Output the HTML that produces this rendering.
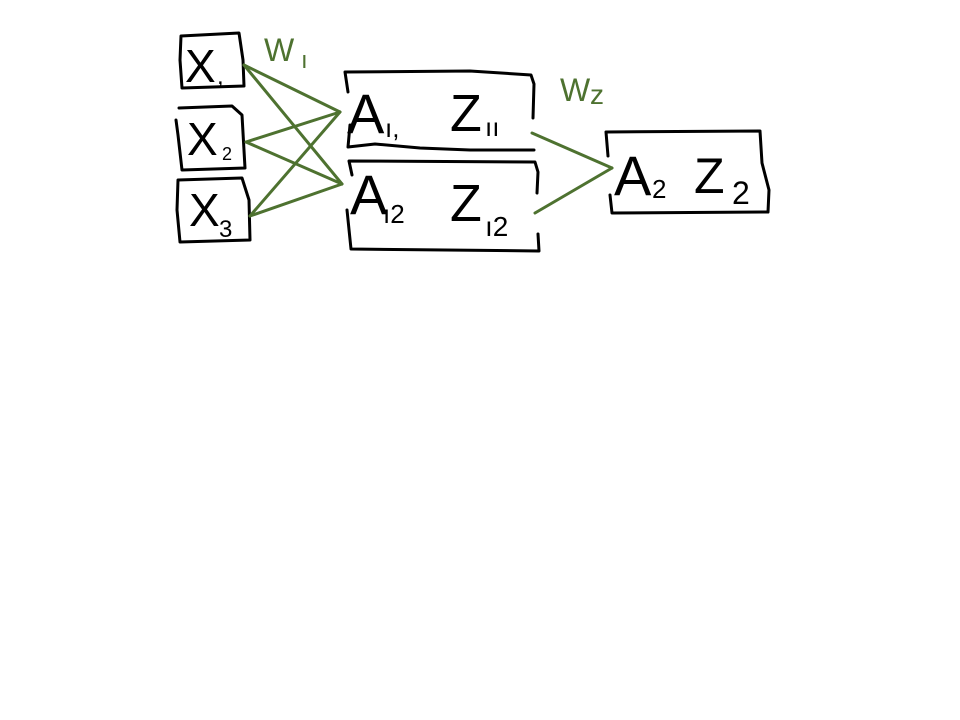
<!DOCTYPE html>
<html><head><meta charset="utf-8"><style>
html,body{margin:0;padding:0;background:#fff;width:960px;height:720px;overflow:hidden}
svg{display:block}
text{font-family:"Liberation Sans",sans-serif}
</style></head><body>
<svg width="960" height="720" viewBox="0 0 960 720">
<g fill="none" stroke="#000" stroke-width="3" stroke-linecap="round" stroke-linejoin="round">
<path d="M181,36 L239,33 L243,60 L244,86 L182,88 L180,60 Z"/>
<path d="M179,108 L232,106 L242,115 L245,168 L182,170 L178,135 L176,120"/>
<path d="M178,180 L242,178 L249,200 L250,240 L180,242 L177,210 Z"/>
<path d="M348,92 L345,72 L470,71 L531,75 L534,84 L533,118 M350,125 L348,147 L375,144 L420,148 L470,150 L534,150"/>
<path d="M352,175 L349,161 L535,162 L538,172 L537,193 M347,210 L351,249 L539,251 L538,234"/>
<path d="M608,156 L606,132 L760,131 L762,163 L769,190 L768,212 L612,213 L610,195"/>
</g>
<g stroke="#4e7230" stroke-width="3" stroke-linecap="round" fill="none">
<line x1="244" y1="65" x2="340" y2="112"/>
<line x1="244" y1="65" x2="342" y2="184"/>
<line x1="246" y1="142" x2="340" y2="112"/>
<line x1="246" y1="142" x2="342" y2="184"/>
<line x1="250" y1="216" x2="340" y2="112"/>
<line x1="250" y1="216" x2="342" y2="184"/>
<line x1="532" y1="133" x2="612" y2="168"/>
<line x1="535" y1="213" x2="612" y2="168"/>
</g>
<g fill="#4e7230">
<text x="264" y="61" font-size="32">W</text>
<text x="301" y="68" font-size="24">ı</text>
<text x="560" y="101" font-size="32">W</text>
<text x="590" y="104" font-size="28">z</text>
</g>
<g fill="#000">
<text x="185" y="82" font-size="46">X</text>
<text x="217" y="84" font-size="24">,</text>
<text x="187" y="155" font-size="46">X</text>
<text x="222" y="160" font-size="18">2</text>
<text x="189" y="226" font-size="46">X</text>
<text x="219" y="237" font-size="24">3</text>
<text x="347" y="133" font-size="56">A</text>
<text x="385" y="137" font-size="26">ı,</text>
<text x="450" y="131" font-size="52">Z</text>
<text x="485" y="136" font-size="26">ıı</text>
<text x="350" y="214" font-size="56">A</text>
<text x="383" y="223" font-size="26">ı2</text>
<text x="450" y="221" font-size="52">Z</text>
<text x="485" y="236" font-size="28">ı2</text>
<text x="614" y="195" font-size="56">A</text>
<text x="652" y="198" font-size="26">2</text>
<text x="694" y="193" font-size="50">Z</text>
<text x="732" y="204" font-size="32">2</text>
</g>
</svg>
</body></html>
